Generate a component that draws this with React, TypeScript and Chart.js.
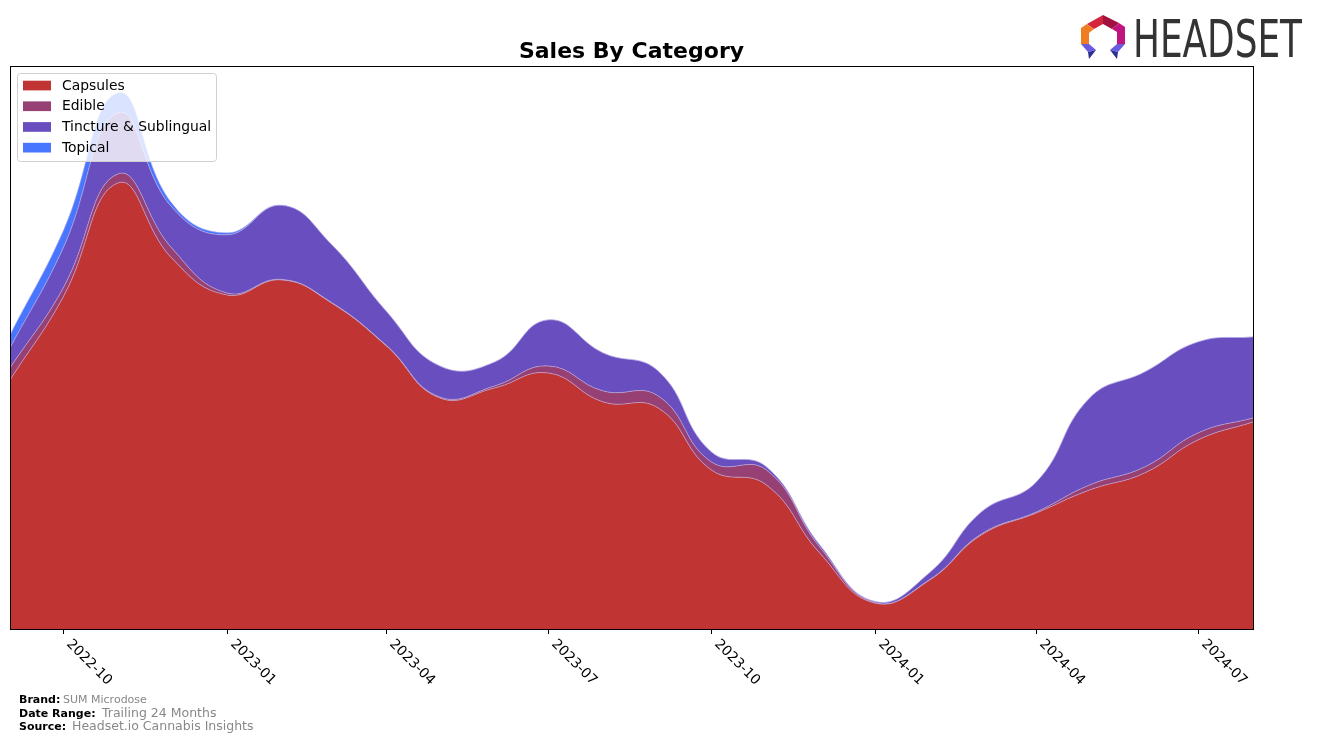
import { useEffect, useRef } from 'react';
import { Chart, registerables } from 'chart.js';

Chart.register(...registerables);

// ---- data (monthly) ----
const months = [
  '2022-09', '2022-10', '2022-11', '2022-12', '2023-01', '2023-02', '2023-03', '2023-04',
  '2023-05', '2023-06', '2023-07', '2023-08', '2023-09', '2023-10', '2023-11', '2023-12',
  '2024-01', '2024-02', '2024-03', '2024-04', '2024-05', '2024-06', '2024-07', '2024-08',
];
const capsules = [249, 332, 446, 371, 334, 349, 326, 283, 231, 241, 256, 227, 221, 159, 144, 76, 26, 49, 94, 116, 139, 156, 189, 207];
const edible = [12, 9, 9, 10, 2, 0.5, 0.5, 0.5, 1, 2, 7, 11, 12, 8, 15, 6, 0.5, 0.5, 1, 1, 5, 6, 7, 4];
const tincture = [20, 40, 61, 41, 58, 74, 58, 34, 31, 24, 46, 38, 25, 10, 3, 2, 1, 7, 22, 30, 87, 95, 91, 81];
const topical = [13, 17, 20, 4, 2, 0, 0, 0, 0, 0, 0, 0, 0, 0, 0, 0, 0, 0, 0, 0, 0, 0, 0, 0];

const seriesNames = ['Capsules', 'Edible', 'Tincture & Sublingual', 'Topical'];
const seriesColors = ['#c13434', '#974073', '#684ebe', '#4876ff'];

const tickLabels = ['2022-10', '2023-01', '2023-04', '2023-07', '2023-10', '2024-01', '2024-04', '2024-07'];

const footerBrand = 'SUM Microdose';
const footerRange = 'Trailing 24 Months';
const footerSource = 'Headset.io Cannabis Insights';

const dayOf = (s: string) => {
  const [y, m] = s.split('-').map(Number);
  return Date.UTC(y, m - 1, 1) / 86400000;
};
const day0 = dayOf(months[0]);

const FONT = '"DejaVu Sans", sans-serif';

export default function App() {
  const ref = useRef<HTMLCanvasElement>(null);

  useEffect(() => {
    const canvas = ref.current!;
    const seriesData = [capsules, edible, tincture, topical];
    const totals = months.map((_, i) => seriesData.reduce((s, d) => s + d[i], 0));
    const yMax = Math.max(...totals) * 1.05;

    const decor = {
      id: 'decor',
      afterDraw(chart: any) {
        const { ctx, chartArea: a, scales } = chart;
        ctx.save();
        // frame
        ctx.strokeStyle = '#000';
        ctx.lineWidth = 1;
        ctx.strokeRect(a.left + 0.5, a.top + 0.5, a.right - a.left, a.bottom - a.top);

        // x ticks + rotated labels
        ctx.font = `13.9px ${FONT}`;
        ctx.fillStyle = '#000';
        tickLabels.forEach((lab) => {
          const x = Math.round(scales.x.getPixelForValue(dayOf(lab) - day0)) + 0.5;
          ctx.beginPath();
          ctx.moveTo(x, a.bottom + 1);
          ctx.lineTo(x, a.bottom + 5);
          ctx.stroke();
          ctx.save();
          ctx.translate(x + 10, a.bottom + 8);
          ctx.rotate(Math.PI / 4);
          ctx.textAlign = 'left';
          ctx.textBaseline = 'top';
          ctx.fillText(lab, 0, 0);
          ctx.restore();
        });

        // title
        ctx.font = `bold 22px ${FONT}`;
        ctx.textAlign = 'center';
        ctx.textBaseline = 'alphabetic';
        ctx.fillText('Sales By Category', (a.left + a.right) / 2, 58);

        // legend
        ctx.beginPath();
        (ctx as any).roundRect(17.5, 73.5, 199, 88, 3);
        ctx.fillStyle = 'rgba(255,255,255,0.8)';
        ctx.fill();
        ctx.strokeStyle = '#d0d0d0';
        ctx.stroke();
        ctx.font = `13.9px ${FONT}`;
        ctx.textAlign = 'left';
        ctx.textBaseline = 'middle';
        seriesNames.forEach((n, i) => {
          const y = 85.5 + i * 20.7;
          ctx.fillStyle = seriesColors[i];
          ctx.fillRect(23, y - 4.8, 28, 9.7);
          ctx.fillStyle = '#000';
          ctx.fillText(n, 62, y + 0.5);
        });

        // footer
        ctx.textBaseline = 'alphabetic';
        ctx.fillStyle = '#000';
        ctx.font = `bold 11px ${FONT}`;
        ctx.fillText('Brand:', 19, 703);
        ctx.fillText('Date Range:', 19, 717);
        ctx.fillText('Source:', 19, 730);
        ctx.fillStyle = '#888';
        ctx.font = `11px ${FONT}`;
        ctx.fillText(footerBrand, 63, 703);
        ctx.font = `12.5px ${FONT}`;
        ctx.fillText(footerRange, 102, 717);
        ctx.fillText(footerSource, 72, 730);

        // logo icon
        const poly = (pts: number[][], c: string) => {
          ctx.beginPath();
          ctx.moveTo(pts[0][0], pts[0][1]);
          pts.slice(1).forEach((p) => ctx.lineTo(p[0], p[1]));
          ctx.closePath();
          ctx.fillStyle = c;
          ctx.fill();
        };
        poly([[1087, 24], [1103, 15], [1103, 24], [1094, 29]], '#d3263e');
        poly([[1103, 15], [1119, 23], [1112, 29], [1103, 24]], '#a3123f');
        poly([[1119, 23], [1125, 27], [1125, 44], [1117, 44], [1117, 32], [1112, 29]], '#c0157e');
        poly([[1087, 24], [1094, 29], [1089, 33], [1089, 44], [1081, 44], [1081, 28]], '#f07d22');
        poly([[1081, 44], [1089, 44], [1096, 50], [1088, 52]], '#6a5ae0');
        poly([[1088, 52], [1096, 50], [1089, 59]], '#2b2f8f');
        poly([[1125, 44], [1117, 44], [1110, 50], [1118, 52]], '#6a5ae0');
        poly([[1118, 52], [1110, 50], [1117, 59]], '#2b2f8f');

        // logo text
        ctx.font = `51px ${FONT}`;
        const w = ctx.measureText('HEADSET').width;
        ctx.save();
        ctx.translate(1133, 57);
        ctx.scale(169 / w, 1);
        ctx.fillStyle = '#333333';
        ctx.textAlign = 'left';
        ctx.textBaseline = 'alphabetic';
        ctx.fillText('HEADSET', 0, 0);
        ctx.restore();

        ctx.restore();
      },
    };

    const chart = new Chart(canvas, {
      type: 'line',
      data: {
        datasets: seriesData.map((d, k) => ({
          label: seriesNames[k],
          data: d.map((v, i) => ({ x: dayOf(months[i]) - day0, y: v })),
          backgroundColor: seriesColors[k],
          borderColor: 'rgba(190,180,235,0.6)',
          borderWidth: 1,
          pointRadius: 0,
          fill: k === 0 ? 'origin' : '-1',
          tension: 0.45,
        })),
      },
      options: {
        responsive: false,
        animation: false,
        devicePixelRatio: 1,
        layout: { padding: { left: 10, top: 66, right: 64, bottom: 114 } },
        scales: {
          x: { type: 'linear', display: false, min: 0, max: dayOf(months[months.length - 1]) - day0 },
          y: { display: false, stacked: true, min: 0, max: yMax },
        },
        plugins: {
          legend: { display: false },
          title: { display: false },
          tooltip: { enabled: false },
        },
      },
      plugins: [decor],
    } as any);

    return () => chart.destroy();
  }, []);

  return (
    <canvas
      ref={ref}
      width={1317}
      height={743}
      style={{ position: 'absolute', left: 0, top: 0, display: 'block' }}
    />
  );
}
